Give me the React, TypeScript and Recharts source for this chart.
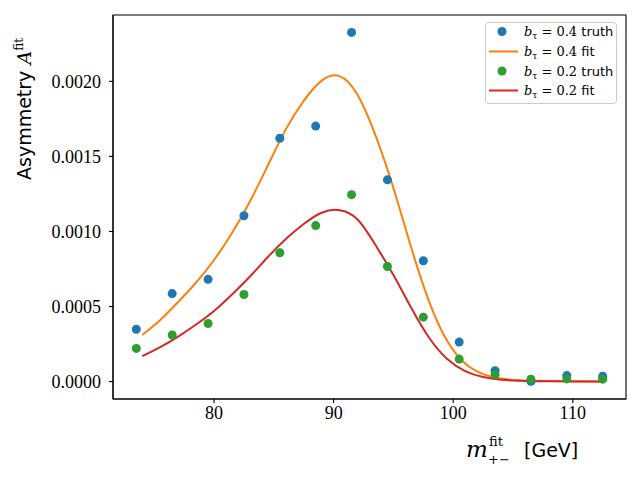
import React from 'react';
import { ComposedChart, Scatter, Line, XAxis, YAxis, Legend, ReferenceArea } from 'recharts';

// ---- data ----
const truthX = [73.5, 76.5, 79.5, 82.5, 85.5, 88.5, 91.5, 94.5, 97.5, 100.5, 103.5, 106.5, 109.5, 112.5];
const truthB04 = [0.000349, 0.000586, 0.000681, 0.001105, 0.001621, 0.001702, 0.002326, 0.001344, 0.000805, 0.000263, 0.000073, 0.000002, 0.00004, 0.000036];
const truthB02 = [0.000221, 0.00031, 0.000387, 0.00058, 0.000858, 0.001039, 0.001245, 0.000767, 0.000429, 0.00015, 0.000046, 0.000016, 0.000018, 0.000016];

const fitX = [74, 75.5, 77, 78.5, 80, 81.5, 83, 84.5, 86, 87.5, 89, 90.5, 92, 93.5, 95, 96.5, 98, 99.5, 101, 102.5, 104, 105.5, 107, 110, 112.5];
const fitB04 = [0.00031, 0.00041, 0.00053, 0.00066, 0.00081, 0.00099, 0.0012, 0.00144, 0.00168, 0.00187, 0.002005, 0.002035, 0.00191, 0.00164, 0.00129, 0.00089, 0.00053, 0.00027, 0.00012, 0.00005, 0.00002, 0.000009, 0.000005, 0.000002, 0.000001];
const fitB02 = [0.00017, 0.00023, 0.0003, 0.00038, 0.00047, 0.00058, 0.0007, 0.00083, 0.00095, 0.00105, 0.001125, 0.001142, 0.00108, 0.00091, 0.00071, 0.00049, 0.00029, 0.00015, 0.00007, 0.00003, 0.000013, 0.000006, 0.000003, 0.000001, 0.0000005];

const xTicks = [80, 90, 100, 110];
const yTicks = [0, 0.0005, 0.001, 0.0015, 0.002];

const legendBValues = ['0.4', '0.4', '0.2', '0.2'];
const legendKinds = ['truth', 'fit', 'truth', 'fit'];
const legendMarkers = ['circle', 'line', 'circle', 'line'];

const C_BLUE = '#1f77b4';
const C_ORANGE = '#ff7f0e';
const C_GREEN = '#2ca02c';
const C_RED = '#d62728';
const legendColors = [C_BLUE, C_ORANGE, C_GREEN, C_RED];

const X_DOMAIN: [number, number] = [71.55, 114.45];
const Y_DOMAIN: [number, number] = [-0.000116, 0.002442];

const truth04Data = truthX.map((x, i) => ({ x, y: truthB04[i] }));
const truth02Data = truthX.map((x, i) => ({ x, y: truthB02[i] }));
const fit04Data = fitX.map((x, i) => ({ x, y: fitB04[i] }));
const fit02Data = fitX.map((x, i) => ({ x, y: fitB02[i] }));

const TICK_FONT = '"Liberation Serif", serif';
const SANS = '"DejaVu Sans", sans-serif';
const MATH = '"DejaVu Serif", serif';

const dot = (color: string) => (p: any) => (
  <circle cx={p.cx} cy={p.cy} r={4.5} fill={color} />
);

const LegendBox = () => {
  const rowsY = [9.5, 29.5, 49, 68.5];
  return (
    <svg width={133} height={83} style={{ display: 'block' }}>
      <rect x={0.5} y={0.5} width={131} height={81} rx={3} ry={3} fill="#ffffff" fillOpacity={0.8} stroke="#cccccc" strokeWidth={1} />
      {legendKinds.map((kind, i) => {
        const cy = rowsY[i];
        return (
          <g key={i}>
            {legendMarkers[i] === 'circle' ? (
              <circle cx={17} cy={cy} r={4.5} fill={legendColors[i]} />
            ) : (
              <line x1={4} x2={33} y1={cy} y2={cy} stroke={legendColors[i]} strokeWidth={2} />
            )}
            <text x={39} y={cy + 4.5} fontSize={13} fill="#000">
              <tspan fontFamily={MATH} fontStyle="italic">b</tspan>
              <tspan fontFamily={MATH} fontSize={9} dy={3}>τ</tspan>
              <tspan fontFamily={MATH} dy={-3}>{' = ' + legendBValues[i] + ' '}</tspan>
              <tspan fontFamily={SANS}>{kind}</tspan>
            </text>
          </g>
        );
      })}
    </svg>
  );
};

const XLabel = () => (
  <g>
    <text x={466} y={457} fontFamily={MATH} fontStyle="italic" fontSize={23} fill="#000">m</text>
    <text x={489} y={446} fontFamily={MATH} fontSize={13} fill="#000">fit</text>
    <text x={488} y={464} fontFamily={MATH} fontSize={13} fill="#000">+−</text>
    <text x={524} y={457} fontFamily={SANS} fontSize={19} fill="#000">[GeV]</text>
  </g>
);

const YLabel = () => (
  <g transform="translate(31,180) rotate(-90)">
    <text x={0} y={0} fill="#000">
      <tspan fontFamily={SANS} fontSize={19}>Asymmetry </tspan>
      <tspan fontFamily={MATH} fontStyle="italic" fontSize={19}>A</tspan>
      <tspan fontFamily={MATH} fontSize={12} dy={-8}>fit</tspan>
    </text>
  </g>
);

export default function App() {
  return (
    <div style={{ position: 'absolute', left: 0, top: 0, width: 640, height: 480, background: '#fff' }}>
      <ComposedChart width={640} height={480} margin={{ top: 15, right: 14, bottom: 0, left: 0 }}>
        <XAxis
          dataKey="x"
          type="number"
          domain={X_DOMAIN}
          ticks={xTicks}
          allowDataOverflow
          height={81}
          tickSize={4}
          tickMargin={3}
          tick={{ fontFamily: TICK_FONT, fontSize: 18, fill: '#000' }}
          axisLine={{ stroke: '#000', strokeWidth: 1.1 }}
          tickLine={{ stroke: '#000', strokeWidth: 1.1 }}
          label={{ content: () => <XLabel /> }}
        />
        <YAxis
          type="number"
          domain={Y_DOMAIN}
          ticks={yTicks}
          allowDataOverflow
          width={113}
          tickSize={4}
          tickMargin={8}
          tickFormatter={(v: number) => v.toFixed(4)}
          tick={{ fontFamily: TICK_FONT, fontSize: 18, fill: '#000' }}
          axisLine={{ stroke: '#000', strokeWidth: 1.1 }}
          tickLine={{ stroke: '#000', strokeWidth: 1.1 }}
          label={{ content: () => <YLabel /> }}
        />
        <Scatter name="b04truth" data={truth04Data} dataKey="y" fill={C_BLUE} shape={dot(C_BLUE)} isAnimationActive={false} />
        <Line name="b04fit" data={fit04Data} dataKey="y" type="natural" stroke={C_ORANGE} strokeWidth={2} dot={false} activeDot={false} isAnimationActive={false} />
        <Scatter name="b02truth" data={truth02Data} dataKey="y" fill={C_GREEN} shape={dot(C_GREEN)} isAnimationActive={false} />
        <Line name="b02fit" data={fit02Data} dataKey="y" type="natural" stroke={C_RED} strokeWidth={2} dot={false} activeDot={false} isAnimationActive={false} />
        <ReferenceArea
          x1={X_DOMAIN[0]}
          x2={X_DOMAIN[1]}
          y1={Y_DOMAIN[0]}
          y2={Y_DOMAIN[1]}
          fill="none"
          fillOpacity={0}
          stroke="#000"
          strokeWidth={1.1}
          ifOverflow="visible"
        />
        <Legend
          layout="horizontal"
          verticalAlign="middle"
          align="center"
          content={() => <LegendBox />}
          wrapperStyle={{ left: 485, top: 22, width: 133, height: 83 }}
        />
      </ComposedChart>
    </div>
  );
}
